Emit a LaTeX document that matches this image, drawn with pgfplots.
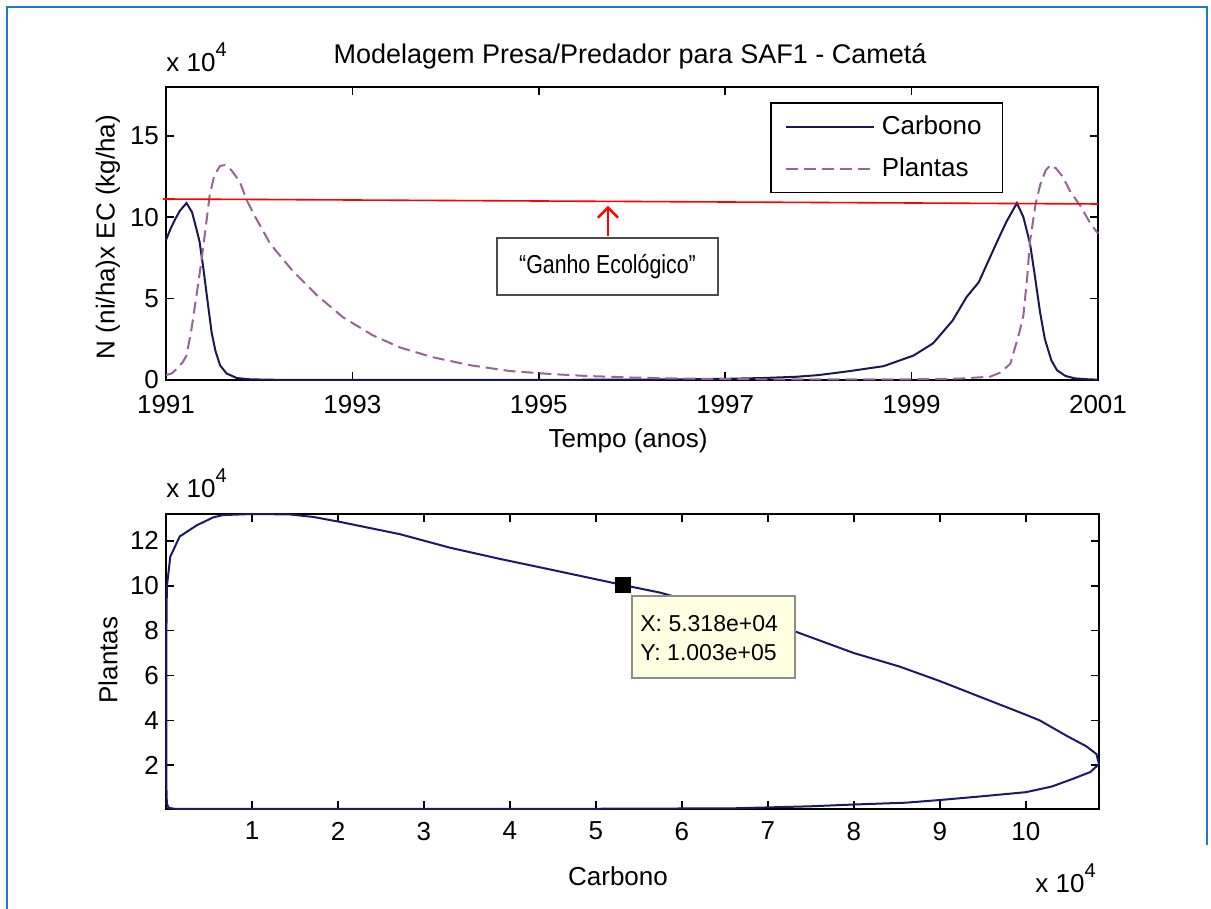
\documentclass[border=0pt]{standalone}
\usepackage{fontspec}
\setmainfont{Liberation Sans}
\usepackage{pgfplots}
\pgfplotsset{compat=1.18}
\usetikzlibrary{arrows.meta}
\definecolor{carb}{RGB}{25,25,80}
\definecolor{carbB}{RGB}{25,25,110}
\definecolor{plant}{RGB}{150,100,150}
\definecolor{frameblue}{RGB}{31,120,200}
\definecolor{tipbg}{RGB}{255,255,225}
\begin{document}
\begin{tikzpicture}
\useasboundingbox (0,0) rectangle (605.5pt,454.5pt);
\pgfplotsset{every axis/.append style={
  font=\fontsize{13}{15}\selectfont,
  scale only axis, tick align=inside, xtick pos=both, ytick pos=both,
  major tick length=4pt,
  axis line style={line width=0.8pt},
  every tick/.style={black, line width=0.8pt},
  clip=false}}
% ---------------- top axis
\begin{axis}[at={(83pt,264.5pt)}, anchor=south west, width=466pt, height=146.5pt,
  xmin=1991, xmax=2001, ymin=0, ymax=18,
  xtick={1991,1993,1995,1997,1999,2001},
  xticklabels={1991,1993,1995,1997,1999,2001},
  xticklabel style={yshift=-4pt},
  ytick={0,5,10,15}, yticklabels={0,5,10,15},
  legend cell align=left,
  legend image code/.code={\draw[#1] (0pt,0pt) -- (44pt,0pt);},
  legend style={at={(0.648,0.949)}, anchor=north west, draw=black, line width=0.9pt,
    inner xsep=7pt, inner ysep=4.5pt, row sep=6pt, font=\fontsize{13}{15}\selectfont,
    nodes={inner xsep=3.5pt}}]
\addplot[carb, line width=1pt] coordinates {
(1991.00,8.6) (1991.05,9.3) (1991.10,9.9) (1991.15,10.4) (1991.22,10.87)
(1991.28,10.3) (1991.33,9.2) (1991.36,8.5) (1991.40,6.9) (1991.44,5.1)
(1991.49,2.9) (1991.53,1.8) (1991.58,0.9) (1991.65,0.4) (1991.76,0.12)
(1991.9,0.04) (1992.2,0.01) (1993,0.005) (1994,0.005) (1995,0.01) (1996,0.02)
(1996.5,0.04) (1997,0.07) (1997.4,0.12) (1997.77,0.2) (1998.0,0.3)
(1998.34,0.55) (1998.7,0.85) (1999.02,1.5) (1999.23,2.25) (1999.44,3.65)
(1999.59,5.1) (1999.72,6.0) (1999.87,7.9) (1999.95,8.9) (2000.02,9.75)
(2000.13,10.87) (2000.2,10.0) (2000.27,8.4) (2000.32,6.5) (2000.38,4.1)
(2000.43,2.5) (2000.5,1.2) (2000.56,0.6) (2000.65,0.25) (2000.75,0.1)
(2000.9,0.04) (2001,0.02)};
\addlegendentry{Carbono}
\addplot[plant, line width=1pt, dash pattern=on 6pt off 3pt] coordinates {
(1991.00,0.3) (1991.06,0.4) (1991.12,0.7) (1991.18,1.1) (1991.22,1.5)
(1991.27,3.0) (1991.33,5.3) (1991.38,7.3) (1991.42,9.1) (1991.47,11.4)
(1991.52,12.6) (1991.58,13.15) (1991.63,13.2) (1991.70,12.9) (1991.79,12.2)
(1991.87,11.0) (1991.95,10.1) (1992.12,8.35) (1992.36,6.7) (1992.62,5.2)
(1992.9,3.85) (1993.22,2.74) (1993.51,2.0) (1993.86,1.4) (1994.26,0.91)
(1994.69,0.55) (1995.12,0.37) (1995.5,0.25) (1996,0.15) (1996.5,0.09)
(1997,0.06) (1997.5,0.04) (1998,0.03) (1998.5,0.03) (1999,0.04) (1999.5,0.08)
(1999.84,0.2) (1999.95,0.45) (2000.06,1.0) (2000.11,2.0) (2000.16,3.0)
(2000.20,4.0) (2000.24,6.3) (2000.27,8.5) (2000.33,10.8) (2000.38,12.0)
(2000.44,12.9) (2000.49,13.2) (2000.55,13.0) (2000.62,12.5) (2000.70,11.6)
(2000.81,10.7) (2000.92,9.6) (2001.00,9.0)};
\addlegendentry{Plantas}
\end{axis}
% ---------------- bottom axis
\begin{axis}[at={(83pt,50pt)}, anchor=south west, width=466.5pt, height=147.5pt,
  xmin=0, xmax=10.85, ymin=0.05, ymax=13.2,
  xtick={1,2,3,4,5,6,7,8,9,10}, xticklabels={1,2,3,4,5,6,7,8,9,10},
  xticklabel style={yshift=-3pt},
  ytick={2,4,6,8,10,12}, yticklabels={2,4,6,8,10,12}]
\addplot[carbB, line width=1pt] coordinates {
(8.6,0.33) (9,0.45) (9.5,0.62) (10,0.8) (10.3,1.05) (10.55,1.4) (10.75,1.7)
(10.85,2.05) (10.82,2.5) (10.7,2.85) (10.48,3.3) (10.16,4.0) (10.0,4.25)
(9.5,5.0) (9.0,5.75) (8.53,6.4) (8.0,7.0) (7.29,8.0) (6.5,8.9) (5.74,9.7)
(5.318,10.03) (4.5,10.7) (3.88,11.2) (3.3,11.7) (2.72,12.3) (2.02,12.85)
(1.71,13.07) (1.44,13.18) (1.0,13.2) (0.66,13.15) (0.55,13.05) (0.36,12.7)
(0.16,12.2) (0.05,11.3) (0.01,9.96) (0.005,8.0) (0.005,4) (0.005,1)
(0.01,0.3) (0.03,0.1) (0.1,0.06) (1,0.05) (3,0.05) (5,0.06) (6.6,0.08)
(7,0.12) (7.5,0.17) (8,0.25) (8.6,0.33)};
\addplot[only marks, mark=square*, mark size=3.75pt, black] coordinates {(5.318,10.03)};
\end{axis}
% ---------------- annotations in pixel coordinates
\begin{scope}[shift={(0pt,454.5pt)}, x=0.5pt, y=-0.5pt]
\draw[frameblue, line width=1.3pt] (7,915) -- (7,7) -- (1207,7) -- (1207,845);
\node[anchor=base, font=\fontsize{13.5}{15}\selectfont] at (630,64) {Modelagem Presa/Predador para SAF1 - Cametá};
\node[anchor=base west, inner sep=0, font=\fontsize{13}{15}\selectfont] at (166,72) {x 10\raisebox{1.1ex}{\fontsize{10}{12}\selectfont 4}};
\node[anchor=base, font=\fontsize{13}{15}\selectfont] at (628,448) {Tempo (anos)};
\node[rotate=90, font=\fontsize{13}{15}\selectfont] at (108,237) {N (ni/ha)x EC (kg/ha)};
\node[anchor=base west, inner sep=0, font=\fontsize{13}{15}\selectfont] at (166,498) {x 10\raisebox{1.1ex}{\fontsize{10}{12}\selectfont 4}};
\node[rotate=90, font=\fontsize{13}{15}\selectfont] at (108,660) {Plantas};
\node[anchor=base, font=\fontsize{13}{15}\selectfont] at (618,886) {Carbono};
\node[anchor=base west, inner sep=0, font=\fontsize{13}{15}\selectfont] at (1035,893) {x 10\raisebox{1.1ex}{\fontsize{10}{12}\selectfont 4}};
% red line, arrow, label box
\draw[red, line width=0.8pt] (163,199) -- (1098,204);
\draw[red, line width=1.2pt, -{Straight Barb[length=5pt,width=10pt]}] (608,236) -- (608,206);
\draw[black!70, line width=0.6pt, fill=white] (497,238) rectangle (718,295);
\node[font=\fontsize{13}{15}\selectfont] at (607.5,266.5) {\scalebox{0.82}[1]{“Ganho Ecológico”}};
% data tip
\draw[black!45, fill=tipbg, line width=0.6pt] (632,596) rectangle (795,678);
\node[anchor=base west, inner sep=0, font=\fontsize{11.5}{13}\selectfont] at (640,632) {X: 5.318e+04};
\node[anchor=base west, inner sep=0, font=\fontsize{11.5}{13}\selectfont] at (640,661) {Y: 1.003e+05};
\end{scope}
\end{tikzpicture}
\end{document}
